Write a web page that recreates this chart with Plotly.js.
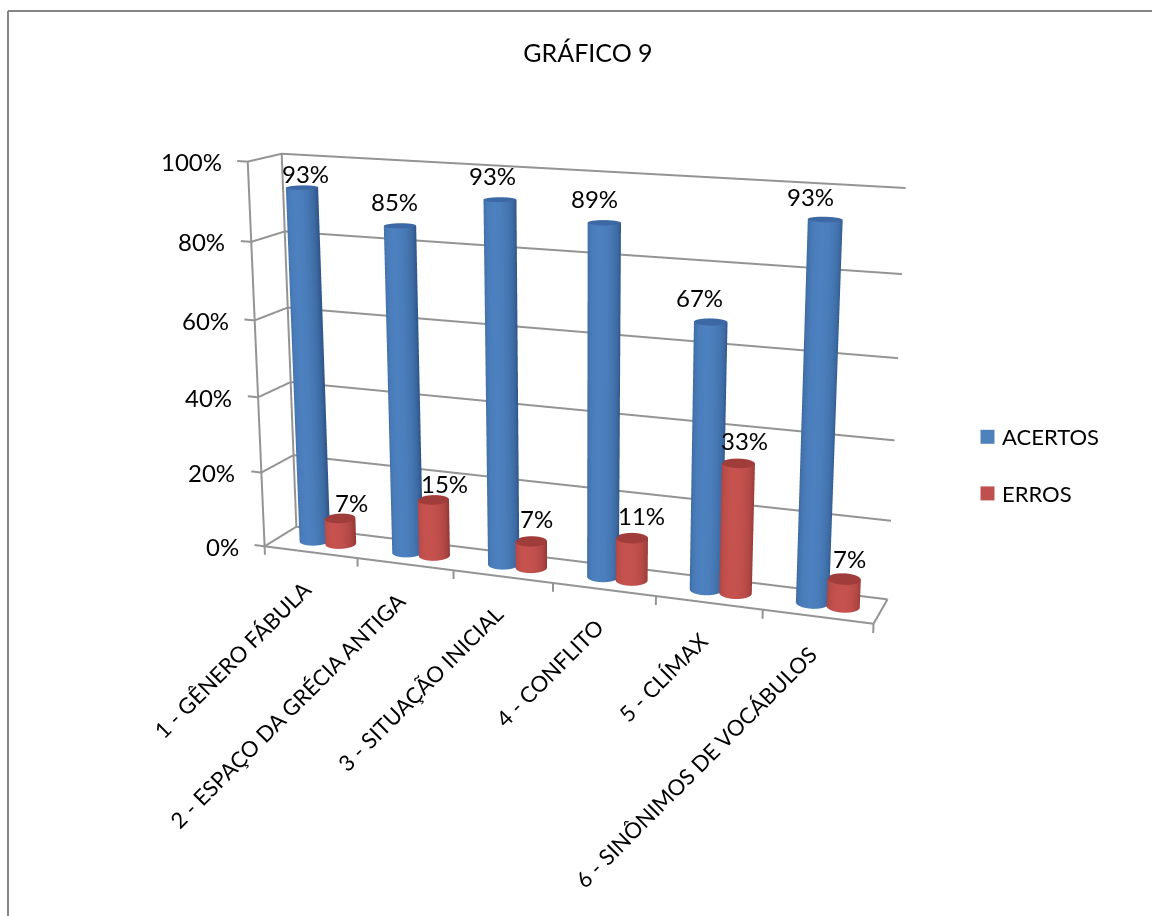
<!DOCTYPE html>
<html>
<head>
<meta charset="utf-8">
<script src="https://cdn.plot.ly/plotly-3.0.1.min.js"></script>
<style>
html,body{margin:0;padding:0;width:1152px;height:916px;overflow:hidden;background:#fff}
#chart{position:absolute;left:0;top:-379px;width:1312px;height:1518px}
</style>
</head>
<body>
<div id="chart"></div>
<script>
// Data
const categories = ["1 - GÊNERO FÁBULA","2 - ESPAÇO DA GRÉCIA ANTIGA","3 - SITUAÇÃO INICIAL","4 - CONFLITO","5 - CLÍMAX","6 - SINÔNIMOS DE VOCÁBULOS"];
const acertos = [93,85,93,89,67,93];
const erros = [7,15,7,11,33,7];
const valueTicks = [0,20,40,60,80,100];

// The graph div is larger than the window so the fixed 45 degree lens reads as a long one.
const W = 1312, H = 1518, TOP = 379;
const px = x => x / W;
const py = y => 1 - (y + TOP) / H;

const sx = 1.605 / 6, sy = 0.168, sz = 1.001 / 100;
const rangeX = [-0.15, 6.05], rangeY = [-0.02, 1.02], rangeZ = [-3, 101];
const mid = r => (r[0] + r[1]) / 2, span = r => r[1] - r[0];
const shift = [(mid(rangeX) - 3) * sx, (mid(rangeY) - 0.5) * sy, (mid(rangeZ) - 50) * sz];
const eye0 = [1.5486, -4.0626, 1.0934], center0 = [0.2137, 0.0639, 0.0001];
const up = [-0.0856, 0.2289, 0.9696];
const vec = (a) => ({x: a[0] - shift[0], y: a[1] - shift[1], z: a[2] - shift[2]});

// Cylinder mesh
const SEG = 48, RX = 0.148, RY = RX * sx / sy;
const BLUE_OFFSET = -0.122, RED_OFFSET = 0.16;
const viewAngle = Math.atan2(0.9221, 0.2983);
function mix(a, b, t){ return a.map((v, i) => Math.round(v + (b[i] - v) * t)); }
function rgb(c){ return `rgb(${c[0]},${c[1]},${c[2]})`; }
function cylinders(name, values, offset, light, dark, cap){
  const X=[],Y=[],Z=[],I=[],J=[],K=[],C=[];
  values.forEach((v, n) => {
    const cx = n + 0.5 + offset, cy = 0.5;
    const base = X.length;
    for(let s = 0; s <= SEG; s++){
      const a = s / SEG * 2 * Math.PI;
      const ca = Math.cos(a), sa = Math.sin(a);
      const rel = Math.cos(a - (-viewAngle - 0.25));
      const shade = Math.min(1, Math.max(0, rel));
      const col = rgb(mix(dark, light, Math.pow(shade, 0.8)));
      X.push(cx + RX*ca, cx + RX*ca); Y.push(cy + RY*sa, cy + RY*sa); Z.push(0, v);
      C.push(col, col);
      if(s < SEG){
        const p = base + 2*s;
        I.push(p, p+1); J.push(p+2, p+2); K.push(p+1, p+3);
      }
    }
    const capBase = X.length;
    X.push(cx); Y.push(cy); Z.push(v); C.push(rgb(cap));
    for(let s = 0; s <= SEG; s++){
      const a = s / SEG * 2 * Math.PI;
      X.push(cx + RX*Math.cos(a)); Y.push(cy + RY*Math.sin(a)); Z.push(v); C.push(rgb(cap));
      if(s < SEG){ I.push(capBase); J.push(capBase+1+s); K.push(capBase+2+s); }
    }
  });
  return {type:'mesh3d', name, x:X, y:Y, z:Z, i:I, j:J, k:K, vertexcolor:C,
    flatshading:false, lighting:{ambient:1,diffuse:0,specular:0,roughness:1,fresnel:0},
    showscale:false, hoverinfo:'skip', showlegend:false};
}

// Legend swatches: square keys carrying the series names
function legendKey(name, color){
  return {type:'scatter3d', mode:'markers', name, x:[null], y:[null], z:[null],
    marker:{symbol:'square', size:14, color, line:{width:0}}, hoverinfo:'skip',
    showlegend:true, legendgroup:name};
}

// Walls, floor outline and tick marks
function frame(){
  const X=[],Y=[],Z=[];
  const seg = pts => { pts.forEach(p => {X.push(p[0]);Y.push(p[1]);Z.push(p[2]);}); X.push(null);Y.push(null);Z.push(null); };
  const n = categories.length;
  valueTicks.forEach(t => seg([[-0.11,0,t],[0,0,t],[0,1,t],[n,1,t]]));
  seg([[0,0,0],[0,0,100]]);
  seg([[0,1,0],[0,1,100]]);
  seg([[0,0,0],[n,0,0],[n,1,0]]);
  for(let i = 0; i <= n; i++) seg([[i,0,0],[i,0,-2.3]]);
  return {type:'scatter3d', mode:'lines', x:X, y:Y, z:Z, connectgaps:false,
    line:{color:'#949494', width:4}, hoverinfo:'skip', showlegend:false};
}

// Label placement relative to the top of each cylinder, in pixels
const acertosLabelDx = [3,-6,-7,-10,-11,-15], acertosLabelDy = [14,24,24,24,24,23];
const errosLabelDx = [12,11,5,10,6,5], errosLabelDy = [16,16,23,23,23,21];

const FONT = 'Lato, sans-serif';
const annotations = [];
valueTicks.forEach(t => annotations.push({x:0,y:0,z:t,text:t+'%',showarrow:false,xanchor:'right',yanchor:'middle',xshift:-24,font:{family:FONT,size:24,color:'#000'}}));
categories.forEach((c, n) => annotations.push({x:n+0.5,y:0,z:-2.3,text:c,showarrow:false,textangle:-45,xanchor:'right',yanchor:'top',xshift:8,yshift:-12,font:{family:FONT,size:22,color:'#000'}}));
const valueLabel = (v, n, off, dx, dy) => ({x:n+0.5+off,y:0.5,z:v,text:v+'%',showarrow:false,xanchor:'center',yanchor:'middle',xshift:dx,yshift:dy,font:{family:FONT,size:24,color:'#000'}});
acertos.forEach((v, n) => annotations.push(valueLabel(v, n, BLUE_OFFSET, acertosLabelDx[n], acertosLabelDy[n])));
erros.forEach((v, n) => annotations.push(valueLabel(v, n, RED_OFFSET, errosLabelDx[n], errosLabelDy[n])));

const hiddenAxis = r => ({range:r, visible:false, showspikes:false, title:{text:''}});

const traces = [
  frame(),
  cylinders('ACERTOS', acertos, BLUE_OFFSET, [76,128,190], [48,88,140], [60,104,165]),
  cylinders('ERROS', erros, RED_OFFSET, [198,82,78], [150,58,55], [160,60,58]),
  legendKey('ACERTOS', '#4f81bd'),
  legendKey('ERROS', '#c0504d')
];

const layout = {
  width:W, height:H, autosize:false,
  margin:{l:0,r:0,t:0,b:0,pad:0},
  paper_bgcolor:'#fff',
  font:{family:FONT,color:'#000'},
  title:{text:'GRÁFICO 9', x:px(588), y:py(53), xref:'paper', yref:'paper', xanchor:'center', yanchor:'middle', font:{family:FONT,size:25,color:'#000'}},
  showlegend:true,
  legend:{x:px(962), y:py(416), xanchor:'left', yanchor:'top', bgcolor:'rgba(0,0,0,0)', tracegroupgap:25, font:{family:FONT,size:22,color:'#000'}},
  shapes:[
    {type:'line',xref:'paper',yref:'paper',x0:px(8),x1:px(8),y0:py(11),y1:py(916),line:{color:'#868686',width:2}},
    {type:'line',xref:'paper',yref:'paper',x0:px(8),x1:px(1152),y0:py(11),y1:py(11),line:{color:'#868686',width:2}}
  ],
  scene:{
    domain:{x:[0,1],y:[0,1]},
    bgcolor:'#fff',
    dragmode:'orbit',
    aspectmode:'manual',
    aspectratio:{x:sx*span(rangeX), y:sy*span(rangeY), z:sz*span(rangeZ)},
    xaxis:hiddenAxis(rangeX), yaxis:hiddenAxis(rangeY), zaxis:hiddenAxis(rangeZ),
    camera:{eye:vec(eye0), center:vec(center0), up:{x:up[0],y:up[1],z:up[2]}, projection:{type:'perspective'}},
    annotations
  }
};

Plotly.newPlot('chart', traces, layout, {displayModeBar:false}).then(() => {
  // Legend keys sit closer to their labels than the default item width allows
  document.querySelectorAll('#chart .legendpoints').forEach(g => g.setAttribute('transform', 'translate(5.5,0)'));
});
</script>
</body>
</html>
